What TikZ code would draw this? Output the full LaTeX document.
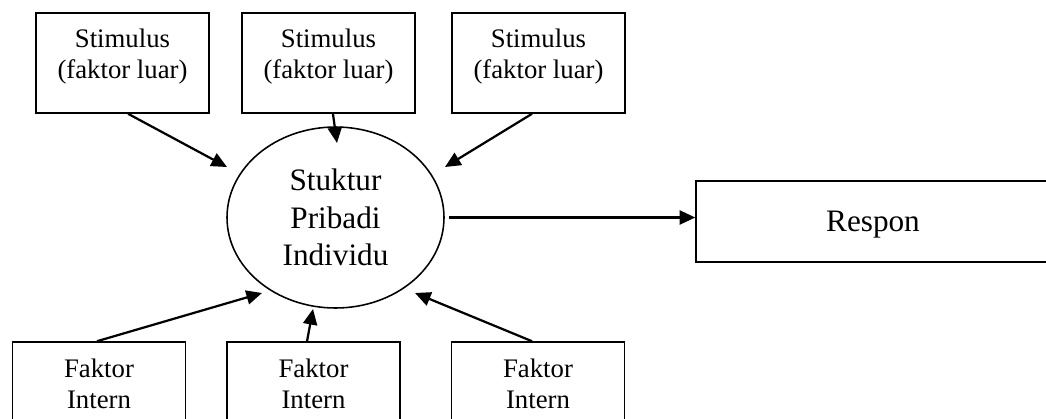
\documentclass[tikz,border=0pt]{standalone}
\usepackage{fontspec}
\setmainfont{Liberation Serif}
\usetikzlibrary{shapes.geometric,arrows.meta}
\newlength{\unitpx}
\setlength{\unitpx}{0.4486pt}
\begin{document}
\begin{tikzpicture}[x=\unitpx,y=-\unitpx,
  kotak/.style={draw,line width=0.7pt,inner sep=0pt,minimum width=173*\unitpx,minimum height=100*\unitpx},
  isi/.style={anchor=north,inner sep=0pt,align=center,font=\fontsize{12}{13.8}\selectfont},
  panah/.style={line width=1pt,-{Triangle[length=7pt,width=6.3pt]}}]
  \useasboundingbox (0,0) rectangle (1046,419);
  \clip (0,0) rectangle (1046,419);
  \node [kotak] (s1) at (122.5,63) {};
  \node [kotak] (s2) at (328.5,63) {};
  \node [kotak] (s3) at (538.5,63) {};
  \node [isi] (s1t) at ([yshift=-7.5pt]s1.north) {Stimulus\\(faktor luar)};
  \node [isi] (s2t) at ([yshift=-7.5pt]s2.north) {Stimulus\\(faktor luar)};
  \node [isi] (s3t) at ([yshift=-7.5pt]s3.north) {Stimulus\\(faktor luar)};
  \node [ellipse,draw,line width=0.7pt,inner sep=0pt,minimum width=217*\unitpx,minimum height=181*\unitpx,
    align=center,font=\fontsize{14}{16.8}\selectfont] (inti) at (335.5,217.5) {Stuktur\\Pribadi\\Individu};
  \node [draw,line width=0.7pt,minimum width=354*\unitpx,minimum height=81*\unitpx,text depth=0pt,
    font=\fontsize{14}{16.8}\selectfont] (respon) at (873,221.5) {Respon};
  \node [kotak] (f1) at (99,392) {};
  \node [kotak] (f2) at (313.5,392) {};
  \node [kotak] (f3) at (538,392) {};
  \node [isi] (f1t) at ([yshift=-7.9pt]f1.north) {Faktor\\Intern};
  \node [isi] (f2t) at ([yshift=-7.9pt]f2.north) {Faktor\\Intern};
  \node [isi] (f3t) at ([yshift=-7.9pt]f3.north) {Faktor\\Intern};
  \coordinate (a1) at (227,167);
  \coordinate (a2) at (337,143);
  \coordinate (a3) at (445,167);
  \coordinate (b1) at (262,293);
  \coordinate (b2) at (313,309);
  \coordinate (b3) at (415,293);
  \draw [panah] ([xshift=2.5pt]s1.south) -- (a1);
  \draw [panah] ([xshift=2pt]s2.south) -- (a2);
  \draw [panah] ([xshift=-2.9pt]s3.south) -- (a3);
  \draw [panah] ([xshift=1.8pt]inti.east) -- (inti.east -| respon.west);
  \draw [panah] ([xshift=-0.9pt]f1.north) -- (b1);
  \draw [panah] ([xshift=-2.9pt]f2.north) -- (b2);
  \draw [panah] ([xshift=-2.7pt]f3.north) -- (b3);
\end{tikzpicture}
\end{document}
